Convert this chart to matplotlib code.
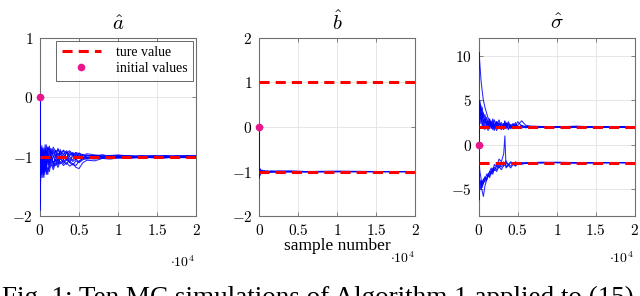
import numpy as np
import matplotlib
matplotlib.use("Agg")
import matplotlib.pyplot as plt
from matplotlib.ticker import FuncFormatter

plt.rcParams['font.family'] = 'serif'
plt.rcParams['font.serif'] = ['Liberation Serif', 'DejaVu Serif']
plt.rcParams['mathtext.fontset'] = 'cm'

# ---- data ----
a_samples = [0, 30, 80, 150, 250, 350, 500, 650, 800, 1000, 1200, 1400, 1700, 2000, 2300,
             2600, 3000, 3400, 3800, 4200, 4600, 5000, 5500, 6000, 7000, 8000, 9000, 10000,
             11500, 13000, 14500, 16000, 17500, 19000, 20000]
a_runs = [
    [0, -1.90, -1.20, -0.85, -1.15, -0.90, -1.30, -1.00, -1.20, -0.85, -1.10, -0.90, -1.15, -0.95, -1.08, -0.88, -1.05, -0.92, -1.10, -0.96, -1.06, -0.94, -1.04, -0.97, -1.02, -0.97, -1.03, -1.00, -0.98, -1.02, -1.00, -0.98, -1.01, -1.00, -1.00],
    [0, -1.50, -0.80, -1.25, -0.95, -1.35, -1.05, -0.80, -1.15, -0.90, -0.82, -1.05, -0.88, -1.02, -0.86, -0.97, -0.90, -1.03, -0.92, -1.00, -0.93, -1.02, -0.96, -1.02, -0.98, -1.02, -0.98, -1.00, -1.01, -0.99, -1.00, -1.01, -1.00, -0.99, -1.00],
    [0, -1.70, -1.35, -1.05, -1.30, -1.15, -1.35, -1.10, -1.30, -1.18, -1.25, -1.12, -1.22, -1.10, -1.18, -1.08, -1.15, -1.10, -1.16, -1.12, -1.18, -1.20, -1.10, -1.06, -1.07, -1.03, -1.04, -1.02, -1.03, -1.01, -1.02, -1.01, -1.02, -1.01, -1.01],
    [0, -1.20, -0.90, -1.10, -0.82, -1.00, -0.85, -0.95, -0.80, -0.90, -0.85, -0.95, -0.84, -0.92, -0.88, -0.95, -0.89, -0.94, -0.90, -0.96, -0.93, -0.95, -0.98, -0.95, -0.97, -0.99, -0.98, -0.97, -0.99, -0.98, -0.99, -1.00, -0.99, -0.98, -0.99],
    [0, -1.40, -1.10, -1.35, -1.05, -1.20, -1.28, -1.10, -1.25, -1.05, -1.20, -1.08, -1.18, -1.04, -1.14, -1.02, -1.12, -1.05, -1.10, -1.14, -1.07, -1.10, -1.05, -1.03, -1.04, -1.02, -1.03, -1.01, -1.02, -1.00, -1.01, -1.02, -1.00, -1.01, -1.01],
    [0, -1.60, -0.95, -1.15, -1.25, -0.90, -1.05, -1.20, -0.92, -1.08, -0.90, -1.10, -1.00, -0.90, -1.06, -0.95, -1.05, -0.93, -1.00, -1.06, -0.96, -1.00, -1.02, -0.98, -0.98, -1.00, -1.01, -0.99, -1.00, -1.01, -1.00, -0.99, -1.00, -1.01, -0.99],
    [0, -1.30, -1.00, -0.90, -1.20, -1.05, -0.95, -1.25, -1.15, -1.30, -1.08, -1.00, -1.12, -1.15, -1.04, -1.12, -1.06, -1.13, -1.03, -1.08, -1.04, -1.09, -1.02, -1.01, -1.02, -1.00, -1.01, -1.02, -1.00, -1.01, -1.00, -1.01, -1.00, -1.01, -1.02],
    [0, -1.80, -1.25, -0.88, -1.00, -1.12, -0.92, -1.08, -0.86, -0.98, -1.10, -0.90, -0.99, -1.08, -0.94, -1.04, -0.96, -1.06, -0.98, -0.94, -1.03, -0.98, -1.00, -1.02, -0.99, -1.00, -1.01, -0.99, -1.00, -1.01, -1.00, -0.99, -1.00, -1.01, -1.00],
    [0, -1.10, -0.82, -1.00, -0.90, -0.86, -1.02, -0.90, -0.97, -0.84, -0.92, -0.86, -0.95, -0.89, -0.97, -0.91, -0.96, -0.90, -0.97, -0.93, -0.98, -0.94, -0.97, -0.99, -0.98, -0.97, -0.99, -0.98, -0.99, -1.00, -0.98, -0.99, -0.98, -0.99, -0.98],
    [0, -1.50, -1.05, -1.30, -0.95, -1.10, -1.20, -1.00, -1.15, -1.05, -1.14, -1.00, -1.10, -1.05, -1.12, -1.02, -1.09, -1.03, -1.08, -1.12, -1.15, -1.07, -1.03, -1.04, -1.02, -1.03, -1.01, -1.02, -1.01, -1.02, -1.01, -1.02, -1.01, -1.02, -1.02],
]
a_true = [-1]

b_samples = [0, 20, 50, 100, 200, 400, 700, 1000, 1500, 2500, 4000, 6000, 10000, 15000, 20000]
b_runs = [
    [0, -1.12, -0.92, -1.05, -0.97, -1.03, -0.99, -1.01, -1.00, -1.01, -1.00, -1.00, -1.00, -1.00, -1.00],
    [0, -0.95, -1.10, -0.96, -1.04, -0.98, -1.02, -0.99, -1.01, -1.00, -0.99, -1.00, -1.00, -1.00, -1.00],
    [0, -1.05, -0.97, -1.08, -0.99, -1.02, -1.00, -1.02, -0.99, -1.00, -1.01, -1.00, -1.00, -1.00, -1.00],
    [0, -0.90, -1.04, -0.99, -1.05, -0.97, -1.01, -1.00, -1.01, -0.99, -1.00, -1.00, -1.00, -1.00, -1.00],
    [0, -1.08, -1.00, -0.94, -1.02, -1.01, -0.98, -1.01, -1.00, -1.00, -1.00, -1.01, -1.00, -1.00, -1.00],
    [0, -0.98, -1.07, -1.02, -0.96, -1.03, -1.00, -0.99, -1.00, -1.01, -1.00, -1.00, -1.00, -1.00, -1.00],
    [0, -1.15, -0.95, -1.03, -1.01, -0.98, -1.02, -1.00, -0.99, -1.00, -1.00, -1.00, -0.99, -1.00, -1.00],
    [0, -1.02, -1.09, -0.97, -1.00, -1.02, -0.99, -1.01, -1.00, -1.00, -0.99, -1.00, -1.00, -1.00, -1.00],
    [0, -0.93, -1.01, -1.06, -0.98, -1.00, -1.01, -0.99, -1.01, -1.00, -1.00, -1.00, -1.00, -1.00, -1.00],
    [0, -1.10, -0.98, -1.01, -1.03, -0.99, -1.00, -1.02, -1.00, -0.99, -1.00, -1.00, -1.00, -1.00, -1.00],
]
b_true = [1, -1]

sig_samples = [0, 50, 150, 300, 450, 600, 800, 1000, 1200, 1400, 1600, 1800, 2000, 2300, 2600,
               2900, 3200, 3350, 3500, 3800, 4100, 4400, 4700, 5000, 5500, 6000, 7000, 8000,
               10000, 12500, 15000, 17500, 20000]
sig_runs = [
    [0, 10.4, 9.0, 7.2, 6.0, 5.0, 4.2, 3.6, 3.0, 2.8, 2.4, 2.9, 2.2, 2.6, 1.9, 2.5, 2.1, 2.6, 1.8, 2.3, 2.0, 2.4, 1.9, 2.2, 2.7, 2.2, 2.05, 2.0, 1.95, 2.05, 2.0, 1.95, 2.0],
    [0, 5.0, 4.6, 3.8, 4.2, 3.0, 3.4, 2.4, 2.9, 1.8, 2.6, 2.1, 1.6, 2.5, 2.0, 1.7, 2.4, 1.9, 2.3, 1.8, 2.2, 2.0, 2.3, 1.9, 2.0, 2.1, 1.95, 2.0, 2.05, 2.0, 2.0, 2.05, 1.95],
    [0, 4.6, 3.5, 4.4, 3.0, 3.6, 2.5, 3.1, 2.0, 2.7, 2.2, 1.7, 2.8, 2.1, 2.5, 1.8, 2.2, 2.7, 2.0, 2.4, 1.9, 2.3, 2.1, 2.6, 2.1, 1.9, 2.1, 2.05, 2.0, 2.1, 2.0, 2.05, 2.05],
    [0, 3.8, 5.0, 3.2, 3.8, 2.6, 3.0, 2.2, 2.6, 2.0, 2.5, 1.9, 2.3, 1.6, 2.4, 2.0, 2.3, 1.9, 2.5, 2.1, 1.8, 2.2, 2.0, 2.1, 1.9, 2.0, 1.95, 2.0, 2.05, 1.95, 2.0, 2.0, 2.0],
    [0, 3.0, 2.4, 3.6, 2.0, 2.8, 1.7, 2.6, 2.1, 2.9, 1.8, 2.4, 2.0, 2.6, 1.8, 2.3, 1.9, 2.2, 2.4, 1.7, 2.3, 2.0, 2.5, 1.9, 2.2, 2.0, 2.0, 1.95, 2.0, 2.0, 1.95, 2.0, 1.9],
    [0, 2.5, 4.6, 2.4, 3.3, 1.8, 2.7, 2.2, 1.6, 2.5, 2.0, 2.7, 1.8, 2.2, 2.8, 2.0, 1.7, 2.3, 2.1, 2.6, 2.0, 1.8, 2.2, 2.0, 2.1, 2.0, 2.05, 2.0, 1.98, 2.0, 2.02, 2.0, 2.0],
    [0, -6.2, -4.5, -5.0, -4.0, -4.4, -3.6, -3.9, -3.2, -3.5, -2.8, -3.1, -2.5, -2.8, -2.2, -2.5, -1.9, -2.3, -2.0, -2.2, -1.9, -2.1, -2.0, -2.2, -2.1, -2.0, -2.05, -2.0, -2.0, -2.05, -2.0, -2.0, -2.0],
    [0, -4.5, -4.0, -4.8, -5.2, -5.8, -4.6, -4.0, -3.4, -3.0, -3.3, -2.6, -2.9, -2.3, -2.6, -2.0, -2.4, -2.1, -1.8, -2.3, -2.0, -2.2, -1.9, -2.1, -2.0, -2.1, -2.0, -1.95, -2.0, -2.05, -2.0, -2.0, -2.05],
    [0, -3.0, -4.5, -4.0, -4.6, -3.8, -4.2, -3.3, -3.6, -3.0, -2.6, -3.0, -2.2, -2.5, -1.6, -1.9, -1.0, 1.0, -2.6, -2.3, -2.6, -2.2, -2.4, -2.1, -2.2, -2.05, -2.0, -2.05, -2.0, -2.0, -2.05, -2.0, -2.0],
    [0, -2.0, -3.0, -3.8, -4.8, -4.2, -3.6, -4.0, -3.4, -3.7, -3.0, -3.3, -2.7, -3.0, -2.4, -2.8, -2.3, -2.0, -2.5, -2.2, -2.4, -2.0, -2.3, -2.1, -2.0, -2.1, -2.0, -2.0, -1.95, -2.0, -2.0, -2.0, -2.0],
]
sig_true = [2, -2]

init_value = 0
x_ticks = [0, 5000, 10000, 15000, 20000]

panels = [
    (r'$\hat{a}$', a_samples, a_runs, a_true, (-2, 1), [-2, -1, 0, 1]),
    (r'$\hat{b}$', b_samples, b_runs, b_true, (-2, 2), [-2, -1, 0, 1, 2]),
    (r'$\hat{\sigma}$', sig_samples, sig_runs, sig_true, (-8, 12), [-5, 0, 5, 10]),
]

fig = plt.figure(figsize=(6.4, 2.96), dpi=100)
lefts = [0.0625, 0.405, 0.748]
frame = '#707070'
pink = '#e8168c'

for i, (title, xs, runs, truth, ylim, yt) in enumerate(panels):
    ax = fig.add_axes([lefts[i], 0.270, 0.244, 0.602])
    for run in runs:
        ax.plot(xs, run, color='#0000ff', lw=0.75, alpha=0.85, zorder=2.6)
    for t in truth:
        ax.axhline(t, color='red', lw=2.2, ls=(0, (3.3, 2.0)), zorder=3,
                   label='ture value' if t == truth[0] else None)
    ax.plot([0], [init_value], 'o', color=pink, ms=4.5, zorder=5, clip_on=False,
            label='initial values')
    ax.set_xlim(0, 20000)
    ax.set_ylim(*ylim)
    ax.set_xticks(x_ticks)
    ax.set_yticks(yt)
    ax.xaxis.set_major_formatter(FuncFormatter(lambda v, p: '$%g$' % (v / 1e4)))
    ax.yaxis.set_major_formatter(FuncFormatter(lambda v, p: '$%g$' % v))
    ax.tick_params(direction='in', length=3, width=0.6, color=frame, labelsize=11,
                   top=True, right=True, pad=5)
    ax.grid(True, color='#e2e2e2', lw=0.6)
    ax.set_axisbelow(True)
    for s in ax.spines.values():
        s.set_color(frame)
        s.set_linewidth(0.8)
    ax.set_title(title, fontsize=15, pad=6)
    if i == 0:
        leg = ax.legend(loc='upper right', fontsize=10, frameon=True, fancybox=False,
                        edgecolor='#404040', handlelength=2.8, handletextpad=1.1,
                        borderpad=0.4, labelspacing=0.2, borderaxespad=0.2)
        leg.get_frame().set_linewidth(0.7)
    if i == 1:
        ax.set_xlabel('sample number', fontsize=12.5, labelpad=0)

fig.text(0.305, 0.115, r'$\cdot 10^4$', fontsize=10, ha='right', va='center')
fig.text(0.648, 0.128, r'$\cdot 10^4$', fontsize=10, ha='right', va='center')
fig.text(0.991, 0.128, r'$\cdot 10^4$', fontsize=10, ha='right', va='center')

fig.text(0.003, -0.03, 'Fig. 1: Ten MC simulations of Algorithm 1 applied to (15),',
         fontsize=19.5, ha='left', va='baseline')

fig.savefig('out.png', dpi=100)
